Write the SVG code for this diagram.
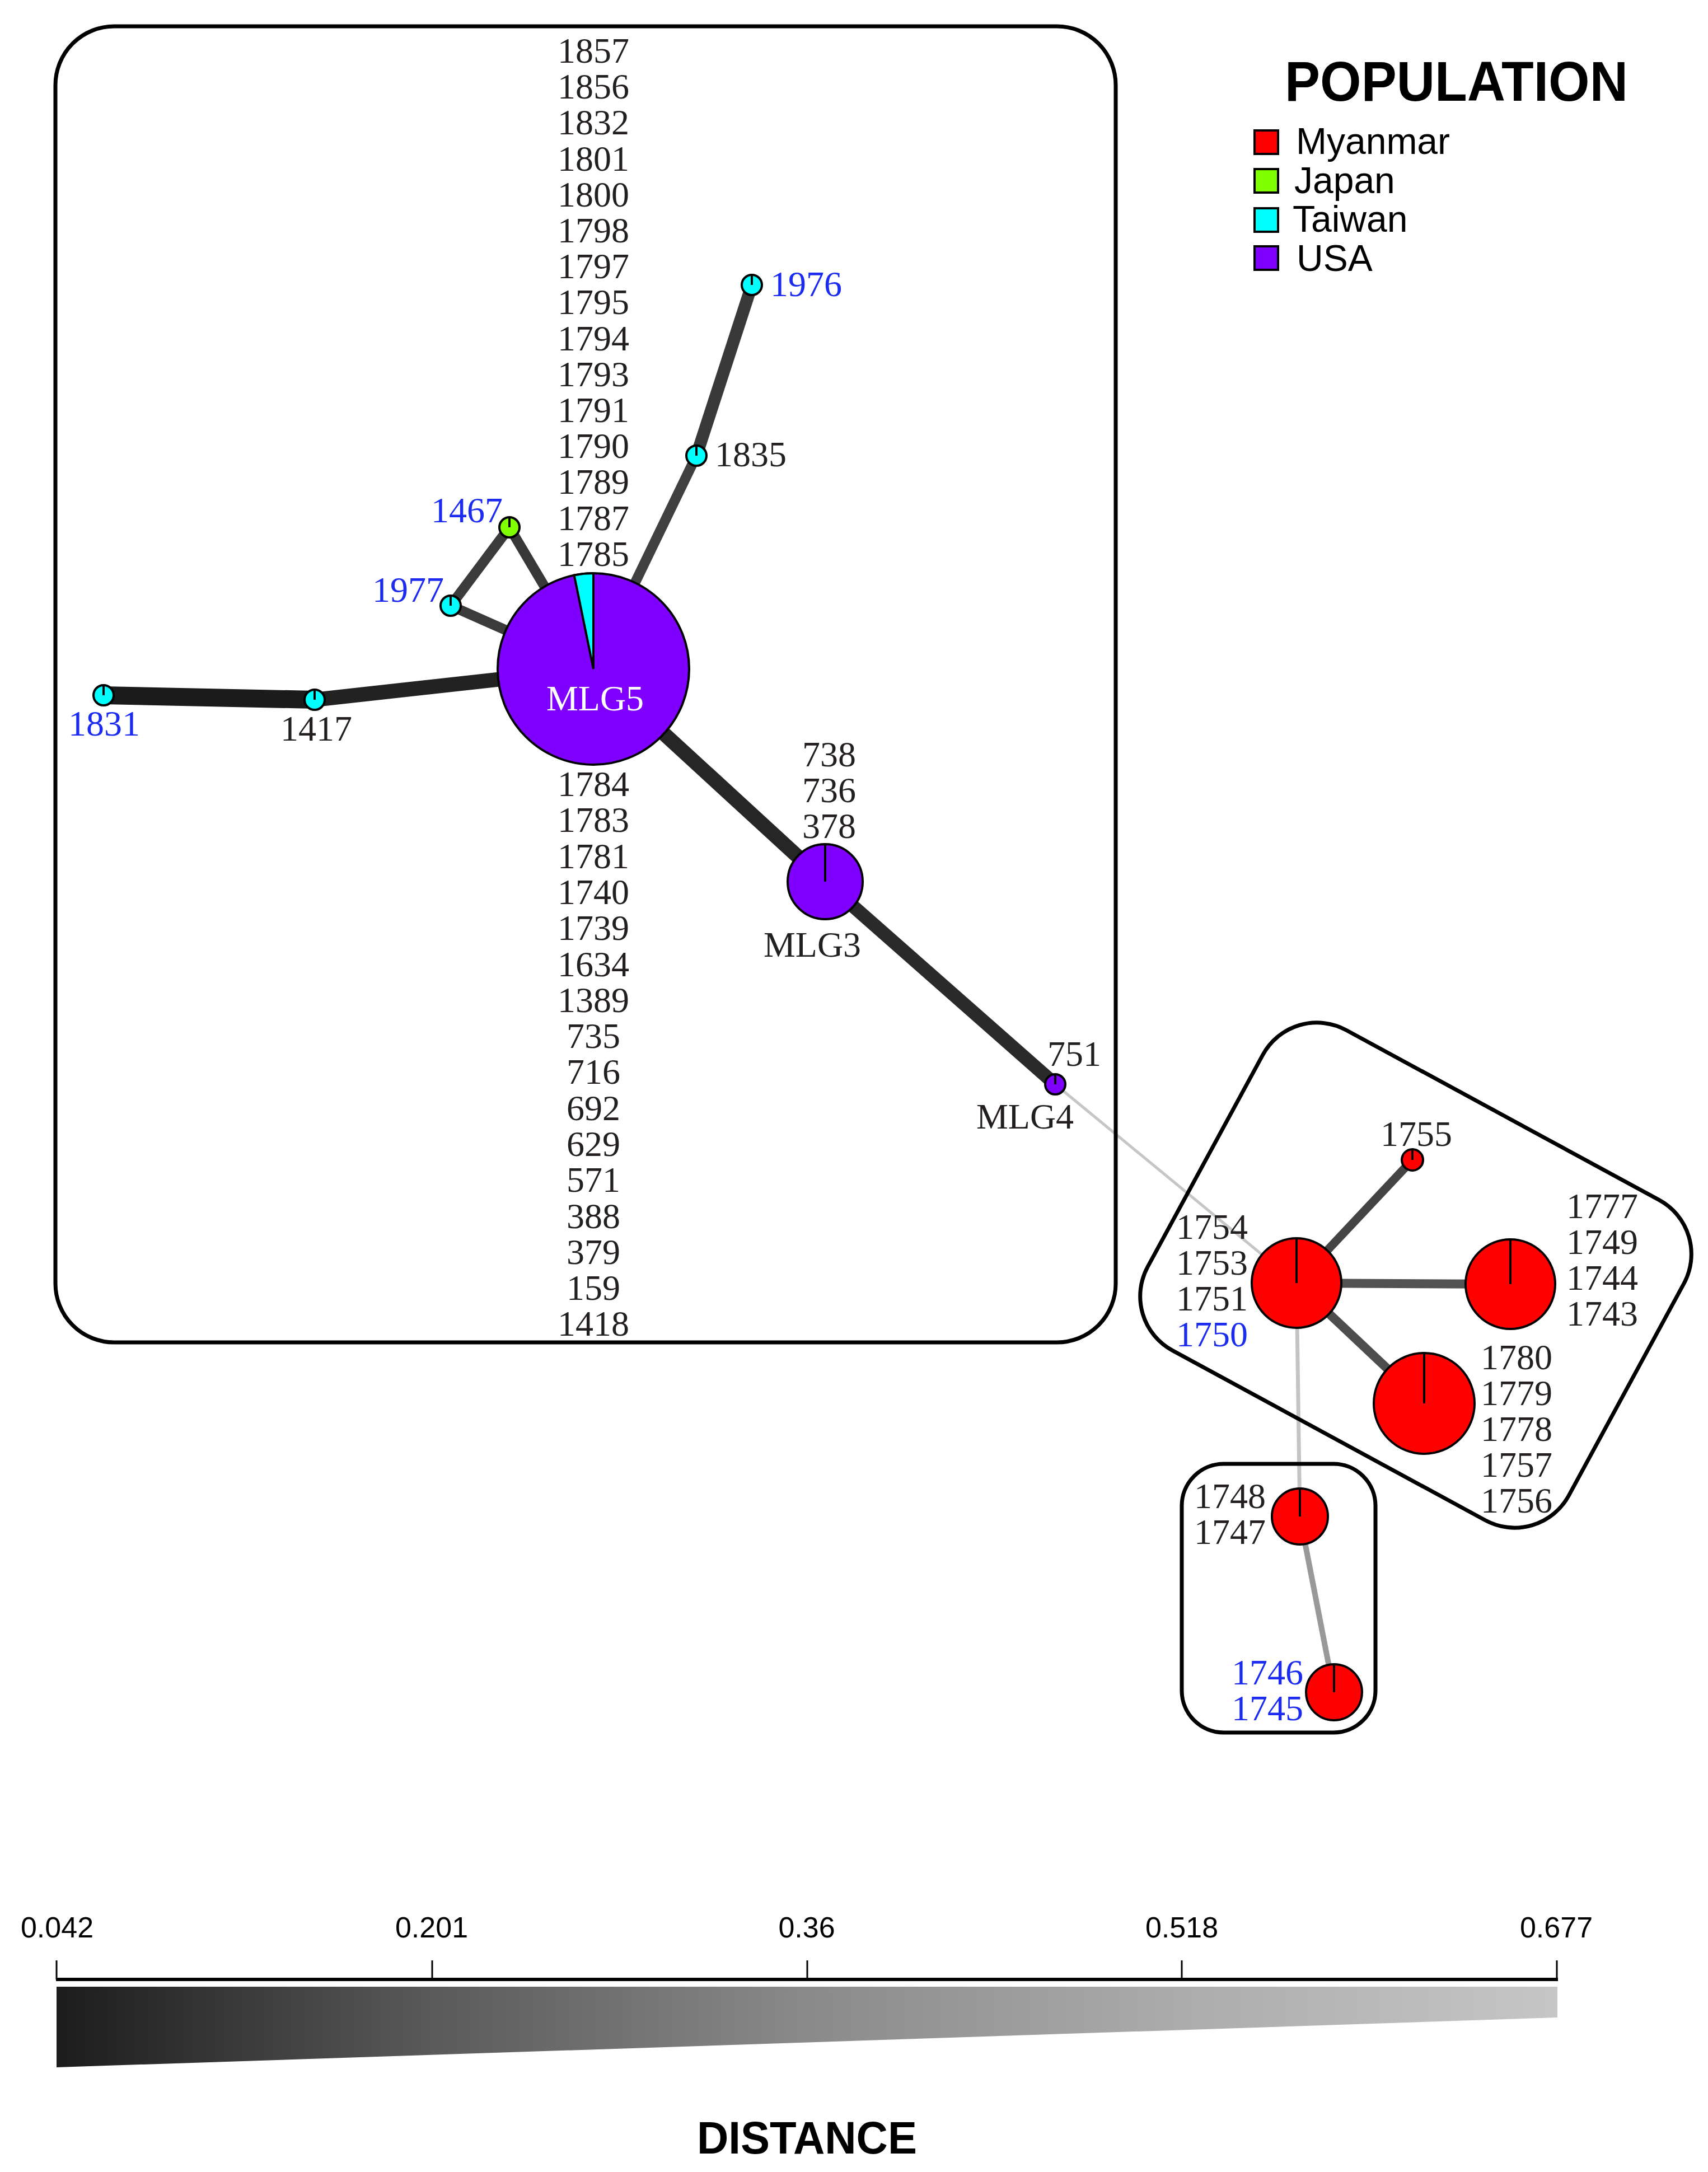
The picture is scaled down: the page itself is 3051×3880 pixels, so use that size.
<svg xmlns="http://www.w3.org/2000/svg" width="3051" height="3880" viewBox="0 0 3051 3880">
<style>
.lbl{font-family:"Liberation Serif","Times New Roman",serif;font-size:64px;fill:#231f20}
.blue{fill:#1b2cf0}
.mid{text-anchor:middle}
.end{text-anchor:end}
.node{stroke:#000;stroke-width:4}
.tick{stroke:#000;stroke-width:4;stroke-linecap:butt}
.box{fill:none;stroke:#000;stroke-width:7}
.edge{stroke-linecap:butt;fill:none}
.usa{fill:#7f00ff}
.tw{fill:#00ffff}
.jp{fill:#80ff00}
.mm{fill:#ff0000}
.leg{font-family:"Liberation Sans",Arial,sans-serif;font-size:66px;fill:#000}
.scale{font-family:"Liberation Sans",Arial,sans-serif;font-size:52px;fill:#000;text-anchor:middle}
.title{font-family:"Liberation Sans",Arial,sans-serif;font-weight:bold;fill:#000}
</style>
<defs>
<linearGradient id="grad" x1="101" y1="0" x2="2782" y2="0" gradientUnits="userSpaceOnUse">
<stop offset="0" stop-color="#1c1c1c"/>
<stop offset="0.25" stop-color="#5a5a5a"/>
<stop offset="0.5" stop-color="#8a8a8a"/>
<stop offset="0.75" stop-color="#acacac"/>
<stop offset="1" stop-color="#c6c6c6"/>
</linearGradient>
</defs>
<rect width="3051" height="3880" fill="#fff"/>

<g id="connectors" class="edge">
<line x1="185" y1="1242" x2="562" y2="1250" stroke="#1b1b1b" stroke-width="32"/>
<line x1="562" y1="1250" x2="1060" y2="1195" stroke="#222222" stroke-width="26"/>
<line x1="1060" y1="1195" x2="805" y2="1082" stroke="#3b3b3b" stroke-width="18"/>
<line x1="1060" y1="1195" x2="910" y2="942" stroke="#383838" stroke-width="18"/>
<line x1="805" y1="1082" x2="910" y2="942" stroke="#3b3b3b" stroke-width="18"/>
<line x1="1060" y1="1195" x2="1244" y2="814" stroke="#404040" stroke-width="18"/>
<line x1="1244" y1="814" x2="1343" y2="509" stroke="#393939" stroke-width="22"/>
<line x1="1060" y1="1195" x2="1474" y2="1575" stroke="#262626" stroke-width="26"/>
<line x1="1474" y1="1575" x2="1885" y2="1937" stroke="#2a2a2a" stroke-width="24"/>
<line x1="1885" y1="1937" x2="2316" y2="2292" stroke="#c6c6c6" stroke-width="5"/>
<line x1="2316" y1="2292" x2="2523" y2="2072" stroke="#444444" stroke-width="15"/>
<line x1="2316" y1="2292" x2="2698" y2="2294" stroke="#525252" stroke-width="16"/>
<line x1="2316" y1="2292" x2="2544" y2="2507" stroke="#4d4d4d" stroke-width="16"/>
<line x1="2316" y1="2292" x2="2322" y2="2709" stroke="#c4c4c4" stroke-width="7"/>
<line x1="2322" y1="2709" x2="2383" y2="3023" stroke="#999999" stroke-width="10"/>
</g>

<g id="groups">
<rect class="box" x="99" y="47" width="1894" height="2351" rx="105" ry="105"/>
<rect class="box" x="-428" y="-325.5" width="856" height="651" rx="110" ry="110" transform="translate(2529,2278) rotate(28.5)"/>
<rect class="box" x="2111" y="2615" width="346" height="480" rx="75" ry="75"/>
</g>

<g id="node-MLG5">
<circle class="node usa" cx="1060" cy="1195" r="171"/>
<path class="node tw" d="M1060,1195 L1060,1024 A171,171 0 0 0 1025.6,1027.5 Z"/>
<text class="lbl mid" x="1063" y="1269" style="fill:#fff">MLG5</text>
</g>
<g id="node-MLG3">
<circle class="node usa" cx="1474" cy="1575" r="67"/>
<line class="tick" x1="1474" y1="1575" x2="1474" y2="1508"/>
</g>
<g id="node-MLG4">
<circle class="node usa" cx="1885" cy="1937" r="18"/>
<line class="tick" x1="1885" y1="1937" x2="1885" y2="1919"/>
</g>
<g id="node-1831">
<circle class="node tw" cx="185" cy="1242" r="18"/>
<line class="tick" x1="185" y1="1242" x2="185" y2="1224"/>
</g>
<g id="node-1417">
<circle class="node tw" cx="562" cy="1250" r="18"/>
<line class="tick" x1="562" y1="1250" x2="562" y2="1232"/>
</g>
<g id="node-1977">
<circle class="node tw" cx="805" cy="1082" r="18"/>
<line class="tick" x1="805" y1="1082" x2="805" y2="1064"/>
</g>
<g id="node-1467">
<circle class="node jp" cx="910" cy="942" r="18"/>
<line class="tick" x1="910" y1="942" x2="910" y2="924"/>
</g>
<g id="node-1835">
<circle class="node tw" cx="1244" cy="814" r="18"/>
<line class="tick" x1="1244" y1="814" x2="1244" y2="796"/>
</g>
<g id="node-1976">
<circle class="node tw" cx="1343" cy="509" r="18"/>
<line class="tick" x1="1343" y1="509" x2="1343" y2="491"/>
</g>
<g id="node-1754">
<circle class="node mm" cx="2316" cy="2292" r="80"/>
<line class="tick" x1="2316" y1="2292" x2="2316" y2="2212"/>
</g>
<g id="node-1755">
<circle class="node mm" cx="2523" cy="2072" r="19"/>
<line class="tick" x1="2523" y1="2072" x2="2523" y2="2053"/>
</g>
<g id="node-1777">
<circle class="node mm" cx="2698" cy="2294" r="80"/>
<line class="tick" x1="2698" y1="2294" x2="2698" y2="2214"/>
</g>
<g id="node-1780">
<circle class="node mm" cx="2544" cy="2507" r="90"/>
<line class="tick" x1="2544" y1="2507" x2="2544" y2="2417"/>
</g>
<g id="node-1748">
<circle class="node mm" cx="2322" cy="2709" r="50"/>
<line class="tick" x1="2322" y1="2709" x2="2322" y2="2659"/>
</g>
<g id="node-1746">
<circle class="node mm" cx="2383" cy="3023" r="50"/>
<line class="tick" x1="2383" y1="3023" x2="2383" y2="2973"/>
</g>

<g id="labels">
<text class="lbl mid">
<tspan x="1060" y="112">1857</tspan><tspan x="1060" y="176">1856</tspan><tspan x="1060" y="240">1832</tspan><tspan x="1060" y="305">1801</tspan><tspan x="1060" y="369">1800</tspan><tspan x="1060" y="433">1798</tspan><tspan x="1060" y="497">1797</tspan><tspan x="1060" y="561">1795</tspan><tspan x="1060" y="626">1794</tspan><tspan x="1060" y="690">1793</tspan><tspan x="1060" y="754">1791</tspan><tspan x="1060" y="818">1790</tspan><tspan x="1060" y="882">1789</tspan><tspan x="1060" y="947">1787</tspan><tspan x="1060" y="1011">1785</tspan>
</text>
<text class="lbl mid">
<tspan x="1060" y="1422">1784</tspan><tspan x="1060" y="1486">1783</tspan><tspan x="1060" y="1551">1781</tspan><tspan x="1060" y="1615">1740</tspan><tspan x="1060" y="1679">1739</tspan><tspan x="1060" y="1744">1634</tspan><tspan x="1060" y="1808">1389</tspan><tspan x="1060" y="1872">735</tspan><tspan x="1060" y="1936">716</tspan><tspan x="1060" y="2001">692</tspan><tspan x="1060" y="2065">629</tspan><tspan x="1060" y="2129">571</tspan><tspan x="1060" y="2194">388</tspan><tspan x="1060" y="2258">379</tspan><tspan x="1060" y="2322">159</tspan><tspan x="1060" y="2386">1418</tspan>
</text>
<text class="lbl mid"><tspan x="1481" y="1369">738</tspan><tspan x="1481" y="1433">736</tspan><tspan x="1481" y="1497">378</tspan></text>
<text class="lbl mid" x="1451" y="1709">MLG3</text>
<text class="lbl mid" x="1919" y="1904">751</text>
<text class="lbl mid" x="1831" y="2016">MLG4</text>
<text class="lbl blue" x="1376" y="529">1976</text>
<text class="lbl" x="1277" y="833">1835</text>
<text class="lbl blue end" x="898" y="933">1467</text>
<text class="lbl blue end" x="793" y="1075">1977</text>
<text class="lbl blue mid" x="186" y="1314">1831</text>
<text class="lbl mid" x="565" y="1323">1417</text>
<text class="lbl mid" x="2530" y="2047">1755</text>
<text class="lbl end"><tspan x="2229" y="2213">1754</tspan><tspan x="2229" y="2277">1753</tspan><tspan x="2229" y="2341">1751</tspan></text>
<text class="lbl blue end" x="2229" y="2405">1750</text>
<text class="lbl"><tspan x="2798" y="2176">1777</tspan><tspan x="2798" y="2240">1749</tspan><tspan x="2798" y="2304">1744</tspan><tspan x="2798" y="2368">1743</tspan></text>
<text class="lbl"><tspan x="2645" y="2446">1780</tspan><tspan x="2645" y="2510">1779</tspan><tspan x="2645" y="2574">1778</tspan><tspan x="2645" y="2638">1757</tspan><tspan x="2645" y="2702">1756</tspan></text>
<text class="lbl end"><tspan x="2261" y="2694">1748</tspan><tspan x="2261" y="2758">1747</tspan></text>
<text class="lbl blue end"><tspan x="2328" y="3009">1746</tspan><tspan x="2328" y="3073">1745</tspan></text>
</g>

<g id="legend">
<text class="title" x="2295" y="180" font-size="100" textLength="613" lengthAdjust="spacingAndGlyphs">POPULATION</text>
<rect x="2241" y="233" width="42" height="42" fill="#ff0000" stroke="#000" stroke-width="4"/>
<rect x="2241" y="302" width="42" height="42" fill="#80ff00" stroke="#000" stroke-width="4"/>
<rect x="2241" y="372" width="42" height="42" fill="#00ffff" stroke="#000" stroke-width="4"/>
<rect x="2241" y="440" width="42" height="42" fill="#7f00ff" stroke="#000" stroke-width="4"/>
<text class="leg" x="2315" y="275">Myanmar</text>
<text class="leg" x="2312" y="345">Japan</text>
<text class="leg" x="2309" y="414">Taiwan</text>
<text class="leg" x="2316" y="484">USA</text>
</g>

<g id="scale">
<text class="scale" x="102" y="3461">0.042</text>
<text class="scale" x="771" y="3461">0.201</text>
<text class="scale" x="1441" y="3461">0.36</text>
<text class="scale" x="2111" y="3461">0.518</text>
<text class="scale" x="2780" y="3461">0.677</text>
<g stroke="#000" stroke-width="3">
<line x1="101" y1="3502" x2="101" y2="3536"/>
<line x1="772" y1="3502" x2="772" y2="3536"/>
<line x1="1442" y1="3502" x2="1442" y2="3536"/>
<line x1="2111" y1="3502" x2="2111" y2="3536"/>
<line x1="2781" y1="3502" x2="2781" y2="3536"/>
</g>
<line x1="100" y1="3536" x2="2783" y2="3536" stroke="#000" stroke-width="6"/>
<polygon points="101,3549 2782,3549 2782,3604 101,3693" fill="url(#grad)"/>
<text class="title" x="1245" y="3847" font-size="82" textLength="393" lengthAdjust="spacingAndGlyphs">DISTANCE</text>
</g>
</svg>
